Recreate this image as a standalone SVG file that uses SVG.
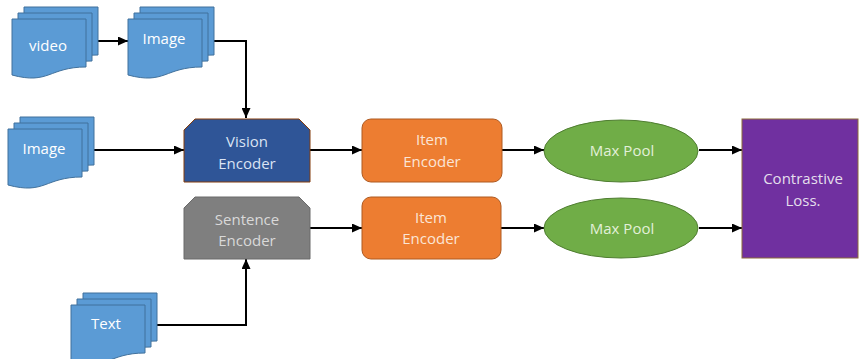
<svg xmlns="http://www.w3.org/2000/svg" width="861" height="359" viewBox="0 0 861 359">
  <style>
    .doc { fill: #5B9BD5; stroke: #41719C; stroke-width: 1; }
    .lbl { font-family: "Open Sans", "Liberation Sans", sans-serif; font-size: 15px; text-anchor: middle; dominant-baseline: central; }
    .wire { fill: none; stroke: #000; stroke-width: 2; }
  </style>
  <defs>
    <!-- single sheet of a document stack, wavy bottom edge -->
    <path id="sheet" d="M0,0 H74 V48 C37,48 37,66 0,56 Z"/>
    <g id="stack">
      <use href="#sheet" class="doc" x="12" y="-12"/>
      <use href="#sheet" class="doc" x="6" y="-6"/>
      <use href="#sheet" class="doc"/>
    </g>
    <marker id="arrow" markerUnits="userSpaceOnUse" markerWidth="10" markerHeight="9" refX="10" refY="4.5" orient="auto">
      <path d="M0,0 L10,4.5 L0,9 Z" fill="#000"/>
    </marker>
  </defs>

  <!-- connectors -->
  <g id="connectors" class="wire" marker-end="url(#arrow)">
    <path d="M98,41 H128"/>
    <path d="M213,41 H246 V118"/>
    <path d="M93,150 H184"/>
    <path d="M156,325 H246 V259"/>
    <path d="M310,150 H362"/>
    <path d="M310,228 H362"/>
    <path d="M502,150 H544"/>
    <path d="M501,228 H544"/>
    <path d="M699,150 H742"/>
    <path d="M699,228 H742"/>
  </g>

  <!-- input document stacks -->
  <g id="video">
    <use href="#stack" x="12" y="19"/>
    <text class="lbl" x="48" y="45" fill="#FFFFFF">video</text>
  </g>
  <g id="image-frames">
    <use href="#stack" x="128" y="19"/>
    <text class="lbl" x="164" y="38" fill="#FFFFFF">Image</text>
  </g>
  <g id="image">
    <use href="#stack" x="8" y="129"/>
    <text class="lbl" x="44" y="148" fill="#FFFFFF">Image</text>
  </g>
  <g id="text">
    <use href="#stack" x="71" y="305"/>
    <text class="lbl" x="106" y="323" fill="#FFFFFF">Text</text>
  </g>

  <!-- encoders -->
  <g id="vision-encoder">
    <path d="M195,119 H299 L310,130 V182 H184 V130 Z" fill="#2F5597" stroke="#843C0C" stroke-width="1"/>
    <text class="lbl" x="247" y="141" fill="#DAE3F3">Vision</text>
    <text class="lbl" x="247" y="163" fill="#DAE3F3">Encoder</text>
  </g>
  <g id="sentence-encoder">
    <path d="M195,197 H299 L310,208 V259 H184 V208 Z" fill="#7F7F7F" stroke="#6A6A6A" stroke-width="1"/>
    <text class="lbl" x="247" y="219" fill="#D9D9D9">Sentence</text>
    <text class="lbl" x="247" y="240" fill="#D9D9D9">Encoder</text>
  </g>
  <g id="item-encoder-1">
    <rect x="362" y="119" width="140" height="63" rx="9" fill="#ED7D31" stroke="#AE5A21" stroke-width="1"/>
    <text class="lbl" x="432" y="139" fill="#FBE5D6">Item</text>
    <text class="lbl" x="432" y="161" fill="#FBE5D6">Encoder</text>
  </g>
  <g id="item-encoder-2">
    <rect x="362" y="197" width="139" height="62" rx="9" fill="#ED7D31" stroke="#AE5A21" stroke-width="1"/>
    <text class="lbl" x="431" y="217" fill="#FBE5D6">Item</text>
    <text class="lbl" x="431" y="238" fill="#FBE5D6">Encoder</text>
  </g>

  <!-- pooling -->
  <g id="max-pool-1">
    <ellipse cx="621" cy="151" rx="77" ry="31" fill="#70AD47" stroke="#507E32" stroke-width="1"/>
    <text class="lbl" x="622" y="150" fill="#E2F0D9">Max Pool</text>
  </g>
  <g id="max-pool-2">
    <ellipse cx="621" cy="228" rx="77" ry="30" fill="#70AD47" stroke="#507E32" stroke-width="1"/>
    <text class="lbl" x="622" y="228" fill="#E2F0D9">Max Pool</text>
  </g>

  <!-- loss -->
  <g id="contrastive-loss">
    <rect x="742" y="119" width="116" height="139" fill="#7030A0" stroke="#8C6B3A" stroke-width="1"/>
    <text class="lbl" x="803" y="178" fill="#E4DFEC">Contrastive</text>
    <text class="lbl" x="803" y="200" fill="#E4DFEC">Loss.</text>
  </g>
</svg>
